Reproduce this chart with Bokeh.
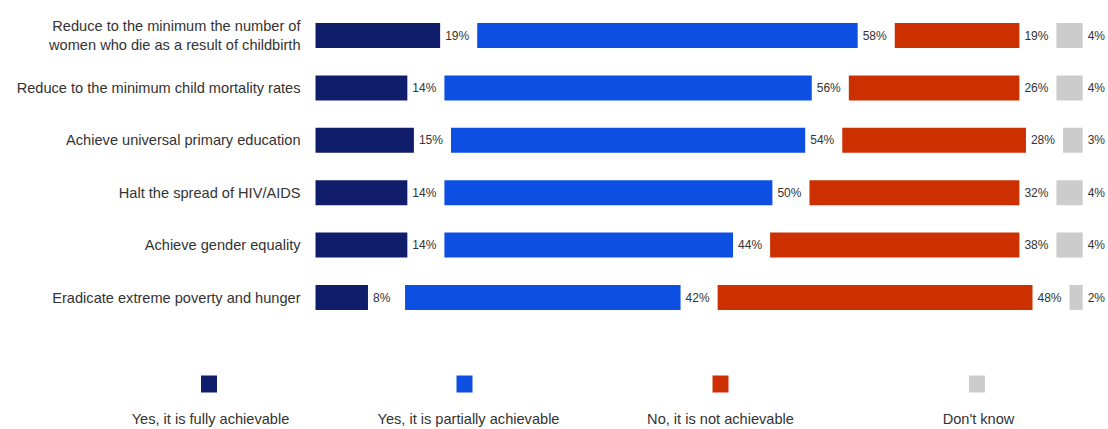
from bokeh.plotting import figure
from bokeh.models import Range1d, ColumnDataSource
from bokeh.core.properties import value
from bokeh.embed import file_html
from bokeh.resources import INLINE

categories = [
    "Reduce to the minimum the number of\nwomen who die as a result of childbirth",
    "Reduce to the minimum child mortality rates",
    "Achieve universal primary education",
    "Halt the spread of HIV/AIDS",
    "Achieve gender equality",
    "Eradicate extreme poverty and hunger",
]
fully = [19, 14, 15, 14, 14, 8]
partially = [58, 56, 54, 50, 44, 42]
not_achievable = [19, 26, 28, 32, 38, 48]
dont_know = [4, 4, 3, 4, 4, 2]
series_names = ["Yes, it is fully achievable", "Yes, it is partially achievable",
                "No, it is not achievable", "Don't know"]
colors = ["#101d6b", "#0d4fe3", "#cc3000", "#cccccc"]

# layout constants (pixel-calibrated)
PX_PER_UNIT = 6.56
X0_PAGE = 315
GAP = 5.65
ROW_PX = 52.4
ROW0_PAGE = 35
OFF = 0
W, H = 1108, 429

def xd(page_x):
    return (page_x - X0_PAGE) / PX_PER_UNIT

def yd(page_y):
    return (page_y - ROW0_PAGE) / ROW_PX

p = figure(width=W, height=H, output_backend="svg", toolbar_location=None,
           x_range=Range1d(xd(OFF), xd(OFF + W)),
           y_range=Range1d(yd(OFF + H), yd(OFF)),
           min_border=0)
p.axis.visible = False
p.grid.visible = False
p.outline_line_color = None
p.background_fill_color = "white"

series = [fully, partially, not_achievable, dont_know]
rows = list(range(len(categories)))
bar_h = 25 / ROW_PX
font = value("Liberation Sans")
txt_color = "#333333"

lefts_all = [[0.0] * len(rows) for _ in series]
for i in rows:
    cum = 0.0
    for k, s in enumerate(series):
        lefts_all[k][i] = cum
        cum += s[i] + GAP

for k, s in enumerate(series):
    left = lefts_all[k]
    right = [l + v for l, v in zip(left, s)]
    src = ColumnDataSource(dict(y=rows, left=left, right=right,
                                lab=[f"{v}%" for v in s],
                                lx=[r + 5 / PX_PER_UNIT for r in right]))
    p.hbar(y="y", left="left", right="right", height=bar_h, source=src,
           fill_color=colors[k], line_color=None)
    p.text(x="lx", y="y", text="lab", source=src, text_font=font,
           text_font_size="12px", text_color=txt_color,
           text_baseline="middle", text_align="left")

# category labels
p.text(x=[xd(300)] * len(rows), y=rows, text=categories, text_font=font,
       text_font_size="14.6px", text_color=txt_color, text_baseline="middle",
       text_align="right", text_line_height=1.15)

# legend
sq_x = [208.5, 464, 720, 976.5]
tx_x = [210, 468, 720, 978]
p.rect(x=[xd(v) for v in sq_x], y=[yd(383.5)] * 4, width=16, height=17,
       width_units="screen", height_units="screen", fill_color=colors,
       line_color=None)
p.text(x=[xd(v) for v in tx_x], y=[yd(418)] * 4, text=series_names,
       text_font=font, text_font_size="14.6px", text_color=txt_color,
       text_baseline="middle", text_align="center")

open("out.html", "w").write(file_html(p, INLINE))
